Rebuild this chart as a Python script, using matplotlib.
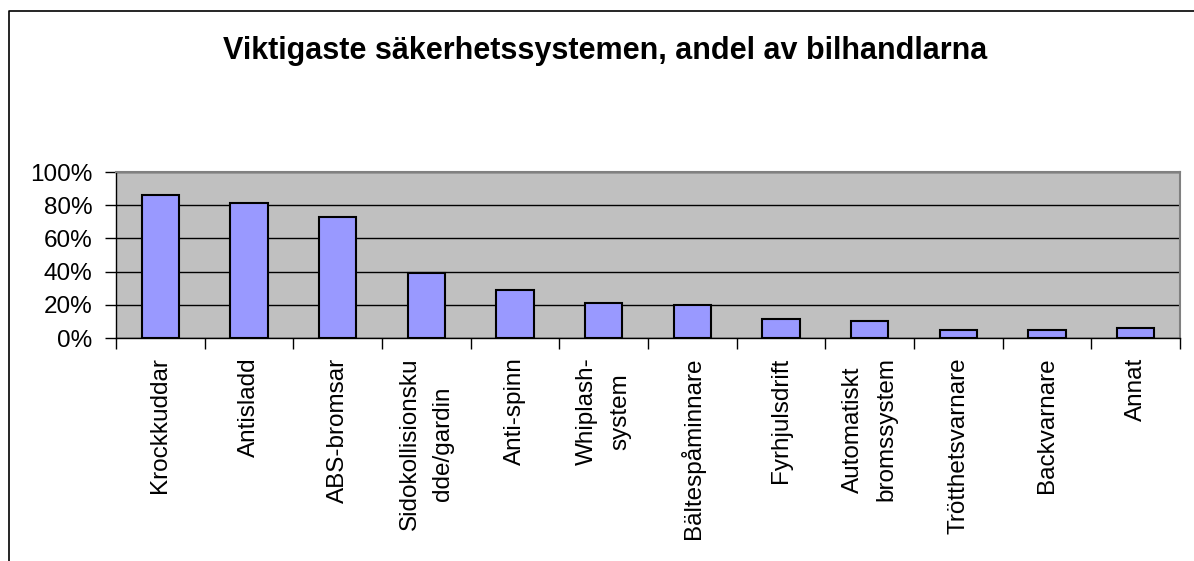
import numpy as np
import matplotlib.pyplot as plt
from matplotlib.lines import Line2D

plt.rcParams['font.family'] = ['Liberation Sans', 'DejaVu Sans']

TITLE = 'Viktigaste säkerhetssystemen, andel av bilhandlarna'

categories = ['Krockkuddar', 'Antisladd', 'ABS-bromsar',
              'Sidokollisionsku\ndde/gardin', 'Anti-spinn', 'Whiplash-\nsystem',
              'Bältespåminnare', 'Fyrhjulsdrift', 'Automatiskt\nbromssystem',
              'Trötthetsvarnare', 'Backvarnare', 'Annat']
values = [86, 81.5, 73, 39, 29, 21, 20, 11.5, 10.5, 4.6, 4.6, 5.8]
yticks = [0, 20, 40, 60, 80, 100]


def make_chart(filename):
  fig = plt.figure(figsize=(11.94, 5.61), dpi=100)
  ax = fig.add_axes([0.0972, 0.3975, 0.8911, 0.2959])

  x = np.arange(len(categories))
  ax.bar(x, values, width=0.42, color='#9999FF', edgecolor='black',
         linewidth=1.5, zorder=3)

  ax.set_facecolor('#C0C0C0')
  ax.set_xlim(-0.5, len(categories) - 0.5)
  ax.set_ylim(0, 100)
  ax.set_yticks(yticks)
  ax.set_yticklabels(['%d%%' % v for v in yticks], fontsize=17.5)
  ax.yaxis.grid(True, color='black', linewidth=1, zorder=1)
  ax.set_axisbelow(True)

  ax.set_xticks(x)
  labels = ax.set_xticklabels(categories, rotation=90, fontsize=17.5,
                              ha='center', va='top', multialignment='center')
  for t in labels:
    t.set_linespacing(1.65)
  ax.set_xticks(np.arange(len(categories) + 1) - 0.5, minor=True)
  ax.tick_params(axis='x', which='major', length=0, pad=14)
  ax.tick_params(axis='x', which='minor', length=8, width=1, direction='out')
  ax.tick_params(axis='y', length=8, width=1, direction='out', pad=9)

  for s in ['top', 'right']:
    ax.spines[s].set_color('#808080')
    ax.spines[s].set_linewidth(1.5)
  for s in ['left', 'bottom']:
    ax.spines[s].set_color('black')
    ax.spines[s].set_linewidth(1)

  fig.text(0.507, 0.8948, TITLE, ha='center', va='baseline',
           fontsize=22, fontweight='bold')

  # chart frame (only left and top edges are visible)
  fig.add_artist(Line2D([0.0075, 0.0075, 1.0], [0.0, 0.9804, 0.9804],
                        transform=fig.transFigure, color='black', linewidth=1.2))

  fig.savefig(filename, dpi=100)
  plt.close(fig)


if __name__ == '__main__':
  make_chart('out.png')
